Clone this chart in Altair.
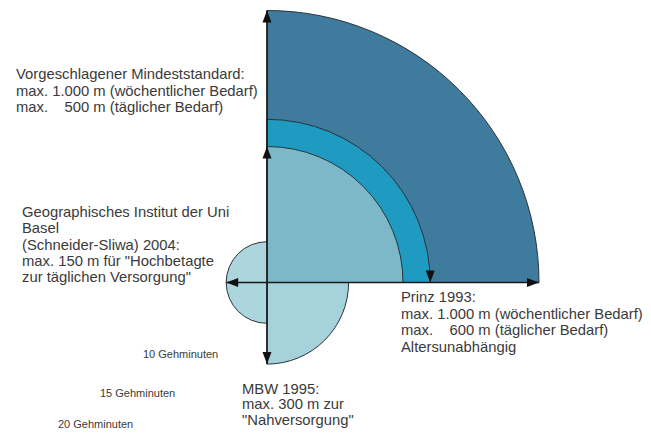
import math
import altair as alt
import pandas as pd

# ---------------- data ----------------
zone_names = ["Prinz 1993 wöchentlich", "Prinz 1993 täglich", "Mindeststandard täglich",
              "Uni Basel 2004", "MBW 1995"]
zone_radius_m = [1000, 600, 500, 150, 300]
zone_start_deg = [0, 0, 0, 180, 90]
zone_end_deg = [90, 90, 90, 360, 180]

line_x_m = [0, -150]
line_y_m = [-300, 0]
line_x2_m = [0, 1000]
line_y2_m = [1000, 0]

arrow_x_m = [0, 0, 1000, -150, 0, 600]
arrow_y_m = [1000, 500, 0, 0, -300, 0]
arrow_dir_deg = [0, 0, 90, 270, 180, 180]

NB = "\u00a0"
label_standard = ("Vorgeschlagener Mindeststandard:\nmax. 1.000 m (wöchentlicher Bedarf)\nmax."
                  + NB * 4 + "500 m (täglicher Bedarf)")
label_basel = "Geographisches Institut der Uni\nBasel\n(Schneider-Sliwa) 2004:\nmax. 150 m für \"Hochbetagte\nzur täglichen Versorgung\""
label_prinz = ("Prinz 1993:\nmax. 1.000 m (wöchentlicher Bedarf)\nmax."
               + NB * 4 + "600 m (täglicher Bedarf)\nAltersunabhängig")
label_mbw = "MBW 1995:\nmax. 300 m zur\n\"Nahversorgung\""
walk_labels = ["10 Gehminuten", "15 Gehminuten", "20 Gehminuten"]

# ---------------- layout / style ----------------
W, H = 635, 421
K = 0.272            # px per metre
OX, OY = 259, 274.5  # origin in plot pixels
xdom = [-OX / K, (W - OX) / K]
ydom = [-(H - OY) / K, OY / K]
xs = alt.Scale(domain=xdom, nice=False, zero=False)
ys = alt.Scale(domain=ydom, nice=False, zero=False)
zone_colors = ["#3f7b9d", "#1f9bc1", "#7db8c9", "#acd5de", "#a6d2db"]
FONT = "Liberation Sans"
TXT = "#3a3a3a"

zones = pd.DataFrame({
    "name": zone_names,
    "r": zone_radius_m,
    "t0": [math.radians(d) for d in zone_start_deg],
    "t1": [math.radians(d) for d in zone_end_deg],
    "cx": [0] * len(zone_names),
    "cy": [0] * len(zone_names),
})

arcs = alt.Chart(zones).mark_arc(stroke="#26343c", strokeWidth=1).encode(
    x=alt.X("cx:Q", scale=xs, axis=None),
    y=alt.Y("cy:Q", scale=ys, axis=None),
    theta=alt.Theta("t0:Q", scale=None, stack=False),
    theta2="t1:Q",
    radius=alt.Radius("r:Q", scale=alt.Scale(type="linear", domain=[0, 1000], range=[0, 1000 * K], zero=True)),
    color=alt.Color("name:N", scale=alt.Scale(domain=zone_names, range=zone_colors), legend=None),
    order=alt.Order("r:Q", sort="descending"),
)

lines = alt.Chart(pd.DataFrame({"x": line_x_m, "y": line_y_m, "x2": line_x2_m, "y2": line_y2_m})).mark_rule(
    color="#1a1a1a", strokeWidth=1.6
).encode(
    x=alt.X("x:Q", scale=xs, axis=None), y=alt.Y("y:Q", scale=ys, axis=None), x2="x2:Q", y2="y2:Q"
)

arrows = alt.Chart(pd.DataFrame({"x": arrow_x_m, "y": arrow_y_m, "a": arrow_dir_deg})).mark_point(
    shape="M0,0L-0.75,2L0.75,2Z", filled=True, size=144, color="#111111", opacity=1
).encode(
    x=alt.X("x:Q", scale=xs, axis=None), y=alt.Y("y:Q", scale=ys, axis=None),
    angle=alt.Angle("a:Q", scale=None),
)


def block(text, px, py, size=14.8, lh=16.5):
    return alt.Chart(pd.DataFrame({"t": [text]})).mark_text(
        align="left", baseline="alphabetic", font=FONT, fontSize=size, lineHeight=lh,
        color=TXT, lineBreak="\n"
    ).encode(x=alt.value(px), y=alt.value(py), text="t:N")


texts = [
    block(label_standard, 8, 71),
    block(label_basel, 14, 209, lh=16.25),
    block(label_prinz, 393, 294),
    block(label_mbw, 234, 385.5, lh=15.5),
    block(walk_labels[0], 135, 350, size=11),
    block(walk_labels[1], 92, 389, size=11),
    block(walk_labels[2], 50, 419.5, size=11),
]

chart = alt.layer(arcs, lines, arrows, *texts).properties(
    width=W, height=H, padding=0, autosize="none"
).configure_view(stroke=None)

chart.save("out.html", embed_options={"renderer": "svg", "actions": False})
